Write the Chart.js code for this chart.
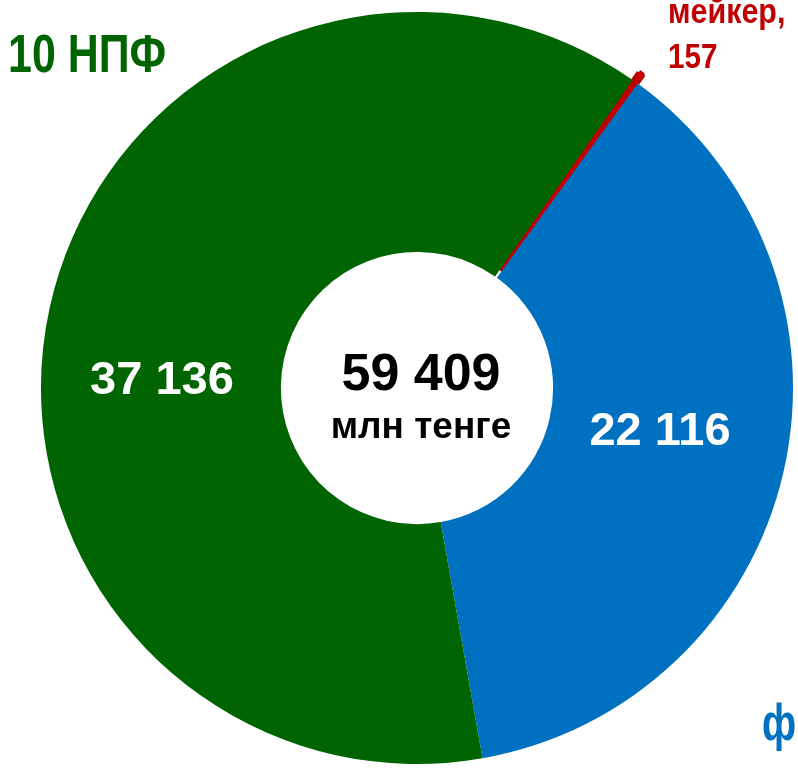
<!DOCTYPE html>
<html>
<head>
<meta charset="utf-8">
<script src="https://cdn.jsdelivr.net/npm/chart.js@4"></script>
<style>
  html, body { margin: 0; padding: 0; background: #fff; }
  #wrap { width: 798px; height: 771px; position: relative; }
</style>
</head>
<body>
<div id="wrap"><canvas id="pieChart"></canvas></div>
<script>
// data
const categories = ['Маркет-мейкер', 'ЕНПФ', '10 НПФ'];
const values = [157, 22116, 37136];
const sliceColors = ['#C00000', '#0070C0', '#006400'];
const totalLabel = '59 409';
const unitLabel = 'млн тенге';

function fmt(n) {
    return String(n).replace(/\B(?=(\d{3})+(?!\d))/g, ' ');
}

// text drawn on top of the doughnut
const labelsPlugin = {
    id: 'labels',
    afterDraw(chart) {
        const ctx = chart.ctx;
        const meta = chart.getDatasetMeta(0);
        const c = meta.data[0];
        ctx.save();
        ctx.textBaseline = 'alphabetic';

        // center total
        ctx.fillStyle = '#000';
        ctx.textAlign = 'center';
        ctx.font = 'bold 52px "Liberation Sans", Arial, sans-serif';
        ctx.fillText(totalLabel, c.x + 4, 390);
        ctx.font = 'bold 37px "Liberation Sans", Arial, sans-serif';
        ctx.fillText(unitLabel, c.x + 4, 438);

        // values inside slices
        ctx.fillStyle = '#fff';
        ctx.font = 'bold 47px "Liberation Sans", Arial, sans-serif';
        ctx.fillText(fmt(values[2]), 162, 394);
        ctx.fillText(fmt(values[1]), 660, 445);

        // outside labels (narrow)
        function narrow(text, x, y, size, color, sx) {
            ctx.save();
            ctx.translate(x, y);
            ctx.scale(sx, 1);
            ctx.textAlign = 'left';
            ctx.fillStyle = color;
            ctx.font = 'bold ' + size + 'px "Liberation Sans", Arial, sans-serif';
            ctx.fillText(text, 0, 0);
            ctx.restore();
        }
        narrow(categories[2], 8, 72, 53, sliceColors[2], 0.81);
        narrow('мейкер,', 668, 23, 35, sliceColors[0], 0.87);
        narrow(fmt(values[0]), 668, 68, 35, sliceColors[0], 0.85);
        narrow('ф', 762, 740, 52, sliceColors[1], 0.75);
        ctx.restore();
    }
};

new Chart(document.getElementById('pieChart'), {
    type: 'doughnut',
    data: {
        labels: categories,
        datasets: [{
            data: values,
            backgroundColor: sliceColors,
            borderColor: sliceColors,
            borderWidth: [5, 0, 0],
            offset: [20, 0, 0],
            radius: 376,
            cutout: '36.2%'
        }]
    },
    options: {
        responsive: true,
        maintainAspectRatio: false,
        animation: false,
        rotation: 35,
        layout: { padding: { left: 36, top: 5, right: 0, bottom: 0 } },
        plugins: {
            legend: { display: false },
            tooltip: { enabled: false }
        }
    },
    plugins: [labelsPlugin]
});
</script>
</body>
</html>
